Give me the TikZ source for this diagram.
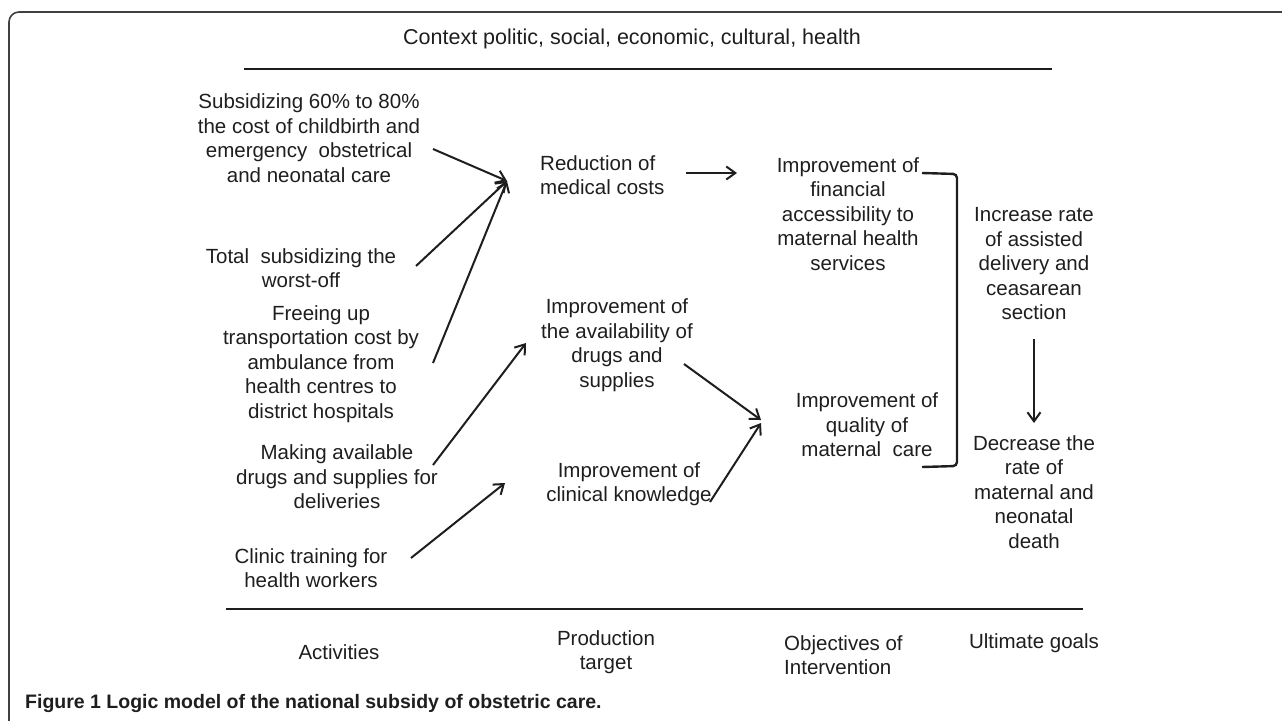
\documentclass[tikz,border=0pt]{standalone}
\usepackage{fontspec}
\setmainfont{Liberation Sans}
\usetikzlibrary{arrows.meta}
\definecolor{ink}{HTML}{1E1E1E}
\begin{document}
\begin{tikzpicture}[x=1pt,y=-1pt,
  txt/.style={inner sep=0pt,align=center,text=ink,font=\fontsize{20.5}{24.5}\selectfont},
  arr/.style={draw=ink,line width=2pt,-{Straight Barb[length=9pt,width=13pt,line width=2pt]}},
  rule/.style={draw=ink,line width=2.8pt},
  brk/.style={draw=ink,line width=2.4pt,rounded corners=4pt}]
\useasboundingbox (0,0) rectangle (1282,720);
\begin{scope}
\clip (0,0) rectangle (1282,720);
\draw[draw=ink!85,line width=1.6pt,rounded corners=10pt] (9,12) rectangle (1300,740);
\end{scope}
% header
\node[txt,font=\fontsize{21.5}{25}\selectfont] (ctx) at (632,39) {Context politic, social, economic, cultural, health};
\coordinate (tl1) at (244,69); \coordinate (tl2) at (1052,69);
\draw[rule] (tl1) -- (tl2);
% activities
\node[txt] (sub) at (309,138) {Subsidizing 60\% to 80\%\\the cost of childbirth and\\emergency\ \ obstetrical\\and neonatal care};
\node[txt] (tot) at (301,268) {Total\ \ subsidizing the\\worst-off};
\node[txt] (fre) at (321,364) {Freeing up\\transportation cost by\\ambulance from\\health centres to\\district hospitals};
\node[txt] (mak) at (337,477) {Making available\\drugs and supplies for\\deliveries};
\node[txt] (cli) at (311,568) {Clinic training for\\health workers};
% production targets
\node[txt,anchor=west,align=left] (red) at (540,175) {Reduction of\\medical costs};
\node[txt] (ava) at (617,345) {Improvement of\\the availability of\\drugs and\\supplies};
\node[txt] (kno) at (629,484) {Improvement of\\clinical knowledge};
% objectives
\node[txt] (fin) at (848,214) {Improvement of\\financial\\accessibility to\\maternal health\\services};
\node[txt] (qua) at (867,425) {Improvement of\\quality of\\maternal\ \ care};
% goals
\node[txt] (inc) at (1034,264) {Increase rate\\of assisted\\delivery and\\ceasarean\\section};
\node[txt] (dec) at (1034,492) {Decrease the\\rate of\\maternal and\\neonatal\\death};
% bottom rule and column labels
\coordinate (bl1) at (226,609); \coordinate (bl2) at (1083,609);
\draw[rule] (bl1) -- (bl2);
\node[txt] (lab1) at (339,652) {Activities};
\node[txt] (lab2) at (606,652) {Production\\target};
\node[txt,anchor=west,align=left] (lab3) at (784,655) {Objectives of\\Intervention};
\node[txt] (lab4) at (1034,643) {Ultimate goals};
\node[inner sep=0pt,anchor=west,text=ink,font=\fontsize{19.5}{23}\selectfont\bfseries] (cap) at (25,703) {Figure 1 Logic model of the national subsidy of obstetric care.};
% arrow anchor points
\coordinate (s1) at (433,149);
\coordinate (s2) at (416,266);
\coordinate (s3) at (433,363);
\coordinate (s4) at (433,465);
\coordinate (s5) at (411,558);
\coordinate (redIn) at (507,181);
\coordinate (avaIn) at (526,343);
\coordinate (knoIn) at (505,483);
\coordinate (redOut) at (686,173);
\coordinate (finIn) at (737,173);
\coordinate (avaOut) at (684,364);
\coordinate (knoOut) at (710,502);
\coordinate (quaIn) at (761,420);
\coordinate (quaIn2) at (761,423);
\coordinate (incOut) at (1034,339);
\coordinate (decIn) at (1034,423);
\coordinate (b1) at (922,173);
\coordinate (b2) at (957,174);
\coordinate (b3) at (957,466);
\coordinate (b4) at (922,467);
% connectors
\draw[arr] (s1) -- (redIn);
\draw[arr] (s2) -- (redIn);
\draw[arr] (s3) -- (redIn);
\draw[arr] (s4) -- (avaIn);
\draw[arr] (s5) -- (knoIn);
\draw[arr] (redOut) -- (finIn);
\draw[arr] (avaOut) -- (quaIn);
\draw[arr] (knoOut) -- (quaIn2);
\draw[arr] (incOut) -- (decIn);
\draw[brk] (b1) -- (b2) -- (b3) -- (b4);
\end{tikzpicture}
\end{document}
